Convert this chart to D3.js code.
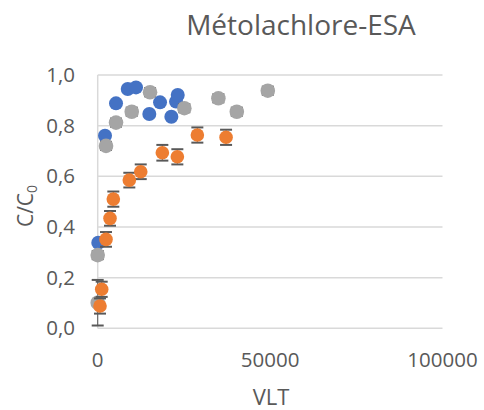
<!DOCTYPE html>
<html><head><meta charset="utf-8">
<script src="https://cdn.jsdelivr.net/npm/d3@7"></script>
<style>body{margin:0;background:#fff}svg{display:block}text{font-family:"Open Sans",sans-serif;fill:#595959}</style>
</head><body><svg id="c" width="484" height="410"></svg>
<script>
const title = "Métolachlore-ESA";
const xTicks = [0, 50000, 100000];
const yTicks = [0, 0.2, 0.4, 0.6, 0.8, 1.0];
const blueX = [170, 2120, 5310, 8710, 11110, 14970, 18080, 21360, 22720, 23210];
const blueY = [0.338, 0.760, 0.888, 0.945, 0.951, 0.846, 0.892, 0.835, 0.895, 0.921];
const grayX = [0, 0, 2410, 5310, 9870, 15180, 25130, 35000, 40340, 49330];
const grayY = [0.289, 0.101, 0.720, 0.812, 0.855, 0.932, 0.869, 0.908, 0.855, 0.938];
const grayErr = [0.016, 0.09, 0.016, 0.016, 0.016, 0.016, 0.016, 0.016, 0.016, 0.016];
const orangeX = [670, 1160, 2410, 3570, 4530, 9170, 12480, 18750, 23100, 28900, 37230];
const orangeY = [0.088, 0.154, 0.351, 0.434, 0.510, 0.585, 0.618, 0.693, 0.677, 0.763, 0.754];
const orangeErr = [0.03, 0.03, 0.029, 0.029, 0.03, 0.029, 0.029, 0.031, 0.03, 0.03, 0.03];

const svg = d3.select("#c");
const x = d3.scaleLinear().domain([0, 100000]).range([97.7, 442.5]);
const y = d3.scaleLinear().domain([0, 1]).range([328.3, 75]);

svg.append("g").selectAll("line").data(yTicks).join("line")
  .attr("x1", x(0)).attr("x2", x(100000))
  .attr("y1", d => y(d)).attr("y2", d => y(d))
  .attr("stroke", "#d9d9d9").attr("stroke-width", 1.5);
svg.append("line").attr("x1", x(0)).attr("x2", x(0)).attr("y1", y(0)).attr("y2", y(1))
  .attr("stroke", "#d9d9d9").attr("stroke-width", 1.5);

svg.append("g").selectAll("text").data(yTicks).join("text")
  .attr("x", 75).attr("y", d => y(d) + 7).attr("text-anchor", "end")
  .attr("font-size", 20.5).text(d => d3.format(".1f")(d).replace(".", ","));
svg.append("g").selectAll("text").data(xTicks).join("text")
  .attr("x", d => x(d)).attr("y", 366.5).attr("text-anchor", "middle")
  .attr("font-size", 20.5).text(d => d);

svg.append("text").attr("x", 301).attr("y", 34.5).attr("text-anchor", "middle")
  .attr("font-size", 28).text(title);
svg.append("text").attr("x", 271).attr("y", 405).attr("text-anchor", "middle")
  .attr("font-size", 22).text("VLT");
const yt = svg.append("text").attr("transform", "translate(33,206) rotate(-90)")
  .attr("text-anchor", "middle").attr("font-size", 21);
yt.append("tspan").text("C/C");
yt.append("tspan").attr("font-size", 14).attr("dy", 4).text("0");

function series(xs, ys, errs, color, r) {
  const data = xs.map((v, i) => ({x: v, y: ys[i], e: errs ? errs[i] : 0}));
  if (errs) {
    const g = svg.append("g").attr("stroke", "#595959");
    data.forEach(d => {
      g.append("line").attr("x1", x(d.x)).attr("x2", x(d.x)).attr("y1", y(d.y - d.e)).attr("y2", y(d.y + d.e)).attr("stroke-width", 1);
      [d.y - d.e, d.y + d.e].forEach(v => g.append("line")
        .attr("x1", x(d.x) - 6).attr("x2", x(d.x) + 6).attr("y1", y(v)).attr("y2", y(v)).attr("stroke-width", 2));
    });
  }
  svg.append("g").selectAll("circle").data(data).join("circle")
    .attr("cx", d => x(d.x)).attr("cy", d => y(d.y)).attr("r", r).attr("fill", color);
}
series(blueX, blueY, null, "#4472C4", 7);
series(grayX, grayY, grayErr, "#A5A5A5", 7.3);
series(orangeX, orangeY, orangeErr, "#ED7D31", 6.8);
</script></body></html>
